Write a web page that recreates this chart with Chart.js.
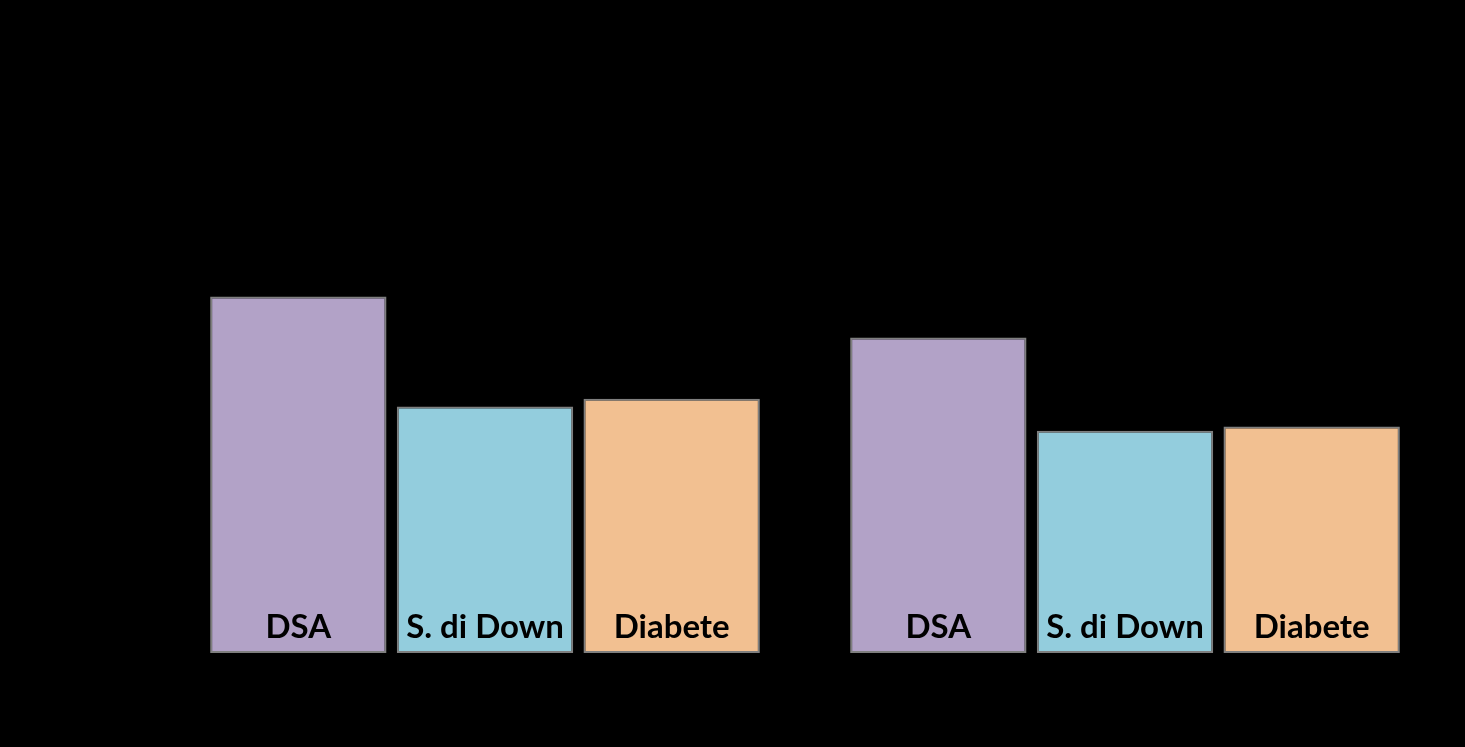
<!DOCTYPE html>
<html>
<head>
<meta charset="utf-8">
<script src="https://cdn.jsdelivr.net/npm/chart.js@4/dist/chart.umd.min.js"></script>
<style>
  html, body { margin: 0; padding: 0; background: #000; }
  #wrap { width: 1465px; height: 747px; }
</style>
</head>
<body>
<div id="wrap"><canvas id="barChart"></canvas></div>
<script>
const groups = ['Gruppo 1', 'Gruppo 2'];
const seriesNames = ['DSA', 'S. di Down', 'Diabete'];
const dsaValues = [59.3, 52.5];
const downValues = [41.0, 37.0];
const diabeteValues = [42.3, 37.7];
const seriesColors = ['#B2A2C7', '#93CDDD', '#F2C091'];

// writes each series name inside the bottom of its bars
const barLabels = {
    id: 'barLabels',
    afterDatasetsDraw(chart) {
        const ctx = chart.ctx;
        ctx.save();
        ctx.fillStyle = '#000';
        ctx.font = 'bold 33px Lato, "Open Sans", sans-serif';
        ctx.textAlign = 'center';
        ctx.textBaseline = 'alphabetic';
        chart.data.datasets.forEach((ds, i) => {
            chart.getDatasetMeta(i).data.forEach(bar => {
                ctx.fillText(ds.label, bar.x, bar.base - 15);
            });
        });
        ctx.restore();
    }
};

const allSeries = [dsaValues, downValues, diabeteValues];

new Chart(document.getElementById('barChart'), {
    type: 'bar',
    data: {
        labels: groups,
        datasets: allSeries.map((vals, i) => ({
            label: seriesNames[i],
            data: vals,
            backgroundColor: seriesColors[i],
            borderColor: '#7f7f7f',
            borderWidth: 2,
            borderSkipped: false,
            categoryPercentage: 0.875,
            barPercentage: 0.945
        }))
    },
    options: {
        responsive: true,
        maintainAspectRatio: false,
        animation: false,
        layout: { padding: { left: 165, right: 20, top: 52, bottom: 94 } },
        plugins: { legend: { display: false }, tooltip: { enabled: false } },
        scales: {
            x: { display: false },
            y: { display: false, min: 0, max: 100 }
        }
    },
    plugins: [barLabels]
});
</script>
</body>
</html>
